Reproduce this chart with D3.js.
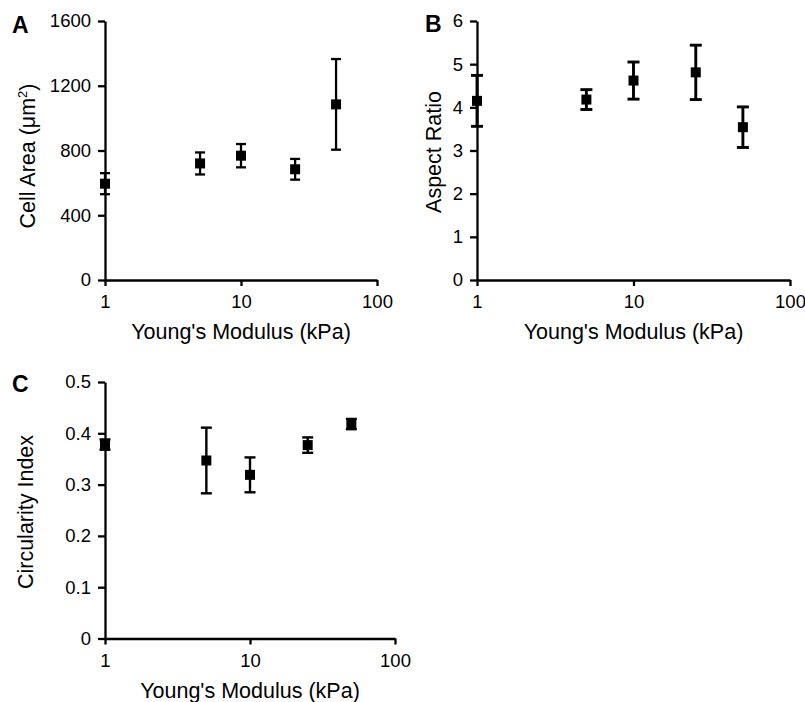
<!DOCTYPE html>
<html>
<head>
<meta charset="utf-8">
<script src="https://cdn.jsdelivr.net/npm/d3@7"></script>
<style>
  html, body { margin: 0; padding: 0; background: #fff; }
  svg { display: block; font-family: "Liberation Sans", Arial, sans-serif; }
  .axis-title { font-size: 21.5px; fill: #000; }
  .panel-letter { font-size: 23px; font-weight: bold; fill: #000; }
</style>
</head>
<body>
<div id="chart"></div>
<script>
// Cell area, aspect ratio and circularity against substrate stiffness (log x).

const moduli = [1, 5, 10, 25, 50];
const xTicks = [1, 10, 100];

const areaMean = [595, 720, 768, 684, 1085];
const areaErr = [65, 68, 72, 64, 280];
const areaTicks = [0, 400, 800, 1200, 1600];

const aspectMean = [4.15, 4.18, 4.62, 4.81, 3.54];
const aspectErr = [0.59, 0.23, 0.43, 0.63, 0.47];
const aspectTicks = [0, 1, 2, 3, 4, 5, 6];

const circMean = [0.378, 0.347, 0.319, 0.377, 0.418];
const circErr = [0.01, 0.064, 0.034, 0.015, 0.01];
const circTicks = [0, 0.1, 0.2, 0.3, 0.4, 0.5];

const WIDTH = 805;
const HEIGHT = 702;

const panels = [
  {
    letter: "A", letterPos: [12, 33],
    xRange: [105, 377], yRange: [280, 21],
    yDomain: [0, 1600], yTicks: areaTicks,
    mean: areaMean, err: areaErr,
    yTitle: "Cell Area (μm", ySup: "2", yTitleX: 35, yTitleY: 156,
    barWidth: 2.3, capWidth: 10,
  },
  {
    letter: "B", letterPos: [425, 32],
    xRange: [477, 790], yRange: [280, 21],
    yDomain: [0, 6], yTicks: aspectTicks,
    mean: aspectMean, err: aspectErr,
    yTitle: "Aspect Ratio", yTitleX: 441, yTitleY: 152,
    barWidth: 2.9, capWidth: 12,
  },
  {
    letter: "C", letterPos: [12, 392],
    xRange: [105, 395], yRange: [638.5, 382],
    yDomain: [0, 0.5], yTicks: circTicks,
    mean: circMean, err: circErr,
    yTitle: "Circularity Index", yTitleX: 33, yTitleY: 512,
    barWidth: 2.4, capWidth: 11,
  },
];

const svg = d3
  .select("#chart")
  .append("svg")
  .attr("width", WIDTH)
  .attr("height", HEIGHT);

panels.forEach((p) => {
  const x = d3.scaleLog().domain([1, 100]).range(p.xRange);
  const y = d3.scaleLinear().domain(p.yDomain).range(p.yRange);
  const g = svg.append("g");

  const styleAxis = (sel) => {
    sel.attr("font-family", null).attr("font-size", null);
    sel.select(".domain").attr("stroke", "#000").attr("stroke-width", 2.3);
    sel.selectAll(".tick line").attr("stroke", "#000").attr("stroke-width", 2.3);
    sel.selectAll(".tick text")
      .style("font-family", '"Liberation Sans", Arial, sans-serif')
      .style("font-size", "18.5px")
      .attr("fill", "#000");
  };

  g.append("g")
    .attr("transform", `translate(0,${p.yRange[0]})`)
    .call(
      d3.axisBottom(x)
        .tickValues(xTicks)
        .tickFormat(d3.format("d"))
        .tickSizeInner(6)
        .tickSizeOuter(0)
        .tickPadding(9)
    )
    .call(styleAxis);

  g.append("g")
    .attr("transform", `translate(${p.xRange[0]},0)`)
    .call(
      d3.axisLeft(y)
        .tickValues(p.yTicks)
        .tickFormat(d3.format("~g"))
        .tickSizeInner(7)
        .tickSizeOuter(0)
        .tickPadding(7)
    )
    .call(styleAxis);

  // error bars
  const rows = moduli.map((m, i) => ({ m, v: p.mean[i], e: p.err[i] }));
  const bars = g.append("g").attr("stroke", "#000").attr("stroke-width", p.barWidth);
  bars.selectAll("line.stem")
    .data(rows)
    .join("line")
    .attr("class", "stem")
    .attr("x1", (d) => x(d.m))
    .attr("x2", (d) => x(d.m))
    .attr("y1", (d) => y(d.v + d.e))
    .attr("y2", (d) => y(d.v - d.e));
  ["top", "bottom"].forEach((side) => {
    bars.selectAll(`line.cap-${side}`)
      .data(rows)
      .join("line")
      .attr("class", `cap-${side}`)
      .attr("x1", (d) => x(d.m) - p.capWidth / 2)
      .attr("x2", (d) => x(d.m) + p.capWidth / 2)
      .attr("y1", (d) => y(side === "top" ? d.v + d.e : d.v - d.e))
      .attr("y2", (d) => y(side === "top" ? d.v + d.e : d.v - d.e));
  });

  const S = 10;
  g.append("g")
    .selectAll("rect")
    .data(rows)
    .join("rect")
    .attr("x", (d) => x(d.m) - S / 2)
    .attr("y", (d) => y(d.v) - S / 2)
    .attr("width", S)
    .attr("height", S)
    .attr("fill", "#000");

  // titles
  g.append("text")
    .attr("class", "axis-title")
    .attr("x", (p.xRange[0] + p.xRange[1]) / 2)
    .attr("y", p.yRange[0] + 59)
    .attr("text-anchor", "middle")
    .text("Young's Modulus (kPa)");

  const yt = g.append("text")
    .attr("class", "axis-title")
    .attr("transform", `translate(${p.yTitleX},${p.yTitleY}) rotate(-90)`)
    .attr("text-anchor", "middle");
  yt.append("tspan").text(p.yTitle);
  if (p.ySup) {
    yt.append("tspan").attr("dy", -8).style("font-size", "13px").text(p.ySup);
    yt.append("tspan").attr("dy", 8).text(")");
  }

  g.append("text")
    .attr("class", "panel-letter")
    .attr("x", p.letterPos[0])
    .attr("y", p.letterPos[1])
    .text(p.letter);
});
</script>
</body>
</html>
